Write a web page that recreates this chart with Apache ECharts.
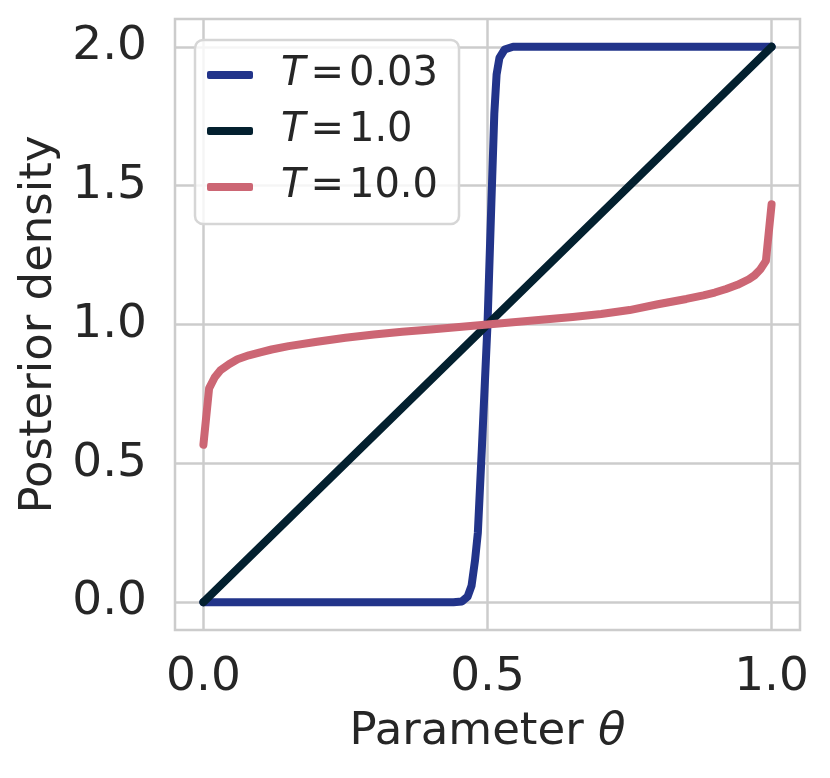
<!DOCTYPE html>
<html>
<head>
<meta charset="utf-8">
<script src="https://cdn.jsdelivr.net/npm/echarts@6/dist/echarts.min.js"></script>
<style>
	html, body { margin: 0; padding: 0; background: #fff; }
	#chart { width: 830px; height: 778px; }
</style>
</head>
<body>
<div id="chart"></div>
<script>
// values
var temps = ["0.03", "1.0", "10.0"];
var colors = ["#22348a", "#03202f", "#cc6674"];

var coldPts = [
	[0, 0], [0.44, 0], [0.455, 0.003], [0.465, 0.02], [0.472, 0.06], [0.478, 0.15],
	[0.483, 0.25], [0.49, 0.55], [0.5, 1.0], [0.507, 1.45], [0.512, 1.76],
	[0.516, 1.9], [0.521, 1.96], [0.53, 1.99], [0.545, 2.0], [1, 2.0]
];
var plainPts = [[0, 0], [1, 2]];
var hotPts = [
	[0, 0.567], [0.01, 0.77], [0.02, 0.81], [0.03, 0.835], [0.045, 0.857], [0.06, 0.875],
	[0.08, 0.889], [0.1, 0.9], [0.12, 0.91], [0.15, 0.922], [0.2, 0.938], [0.25, 0.952],
	[0.3, 0.964], [0.35, 0.974], [0.4, 0.982], [0.45, 0.991], [0.5, 1.0], [0.55, 1.009],
	[0.6, 1.018], [0.65, 1.027], [0.7, 1.038], [0.75, 1.052], [0.8, 1.073], [0.85, 1.092],
	[0.88, 1.105], [0.9, 1.115], [0.92, 1.128], [0.94, 1.143], [0.96, 1.163], [0.97, 1.177],
	[0.98, 1.198], [0.99, 1.229], [1.0, 1.433]
];
var xTicks = [0, 0.5, 1.0];
var yTicks = [0, 0.5, 1.0, 1.5, 2.0];

var font = "DejaVu Sans",
	ink = "#262626",
	gridCol = "#cccccc";

function mkSeries(i, pts) {
	return {
		name: temps[i],
		type: "line",
		data: pts,
		showSymbol: false,
		symbol: "none",
		animation: false,
		z: 2 + i,
		lineStyle: { color: colors[i], width: 8, cap: "round", join: "round" },
		itemStyle: { color: colors[i] }
	};
}

var chart = echarts.init(document.getElementById("chart"), null, { renderer: "canvas" });
chart.setOption({
	animation: false,
	textStyle: { fontFamily: font, color: ink },
	grid: {
		left: 175, right: 30, top: 19, bottom: 148,
		show: true, borderColor: gridCol, borderWidth: 2.5, backgroundColor: "#fff"
	},
	legend: {
		orient: "vertical",
		left: 195, top: 40,
		padding: [15, 21, 17, 12],
		itemGap: 16,
		itemWidth: 46, itemHeight: 8,
		icon: "roundRect",
		backgroundColor: "rgba(255,255,255,0.8)",
		borderColor: "#d6d6d6", borderWidth: 2.5, borderRadius: 8,
		data: temps,
		formatter: function(n) {
			return "{t|T}{e|=}{n|" + n + "}";
		},
		textStyle: {
			fontFamily: font, color: ink, fontSize: 40,
			rich: {
				t: { fontFamily: font, fontSize: 40, fontStyle: "italic", color: ink, lineHeight: 46, padding: [0, 0, 0, 23] },
				e: { fontFamily: font, fontSize: 40, color: ink, lineHeight: 46, padding: [0, 5, 0, 5] },
				n: { fontFamily: font, fontSize: 40, color: ink, lineHeight: 46 }
			}
		}
	},
	xAxis: {
		type: "value",
		min: -0.05, max: 1.05,
		name: "Parameter {i|θ}",
		nameLocation: "middle",
		nameGap: 80,
		nameTextStyle: {
			fontFamily: font, fontSize: 45, color: ink,
			rich: { i: { fontFamily: font, fontSize: 45, fontStyle: "italic", color: ink } }
		},
		axisLine: { show: false },
		axisTick: { show: false, customValues: xTicks },
		axisLabel: {
			customValues: xTicks, fontSize: 47, color: ink, fontFamily: font, margin: 24,
			formatter: function(v) { return v.toFixed(1); }
		},
		splitLine: { show: true, lineStyle: { color: gridCol, width: 2.5 } }
	},
	yAxis: {
		type: "value",
		min: -0.1, max: 2.1,
		name: "Posterior density",
		nameLocation: "middle",
		nameGap: 110,
		nameTextStyle: { fontFamily: font, fontSize: 45, color: ink },
		axisLine: { show: false },
		axisTick: { show: false, customValues: yTicks },
		axisLabel: {
			customValues: yTicks, fontSize: 47, color: ink, fontFamily: font, margin: 28,
			formatter: function(v) { return v.toFixed(1); }
		},
		splitLine: { show: true, lineStyle: { color: gridCol, width: 2.5 } }
	},
	series: [mkSeries(0, coldPts), mkSeries(1, plainPts), mkSeries(2, hotPts)]
});
</script>
</body>
</html>
